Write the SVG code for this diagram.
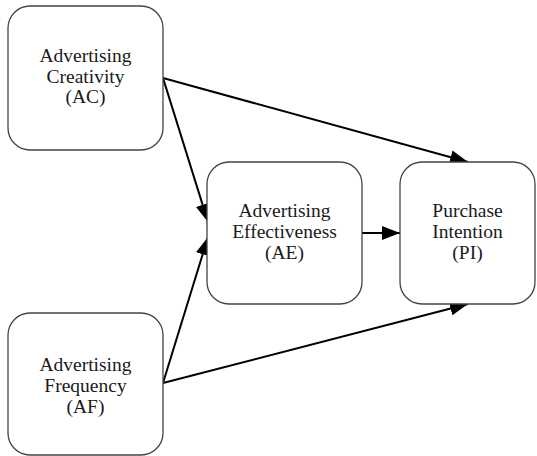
<svg xmlns="http://www.w3.org/2000/svg" width="537" height="456" viewBox="0 0 537 456">
  <defs>
    <marker id="arrow" viewBox="0 0 18 14" refX="18" refY="7" markerWidth="18" markerHeight="14" markerUnits="userSpaceOnUse" orient="auto">
      <path d="M0,0 L18,7 L0,14 Z" fill="#000"/>
    </marker>
    <style>
      .box { fill: #fff; stroke: #444; stroke-width: 1.3; }
      .label { font-family: 'Liberation Serif', 'Times New Roman', serif; font-size: 19.5px; fill: #1a1a1a; text-anchor: middle; }
      .edge { stroke: #000; stroke-width: 2; fill: none; marker-end: url(#arrow); }
    </style>
  </defs>
  <rect width="537" height="456" fill="#fff"/>

  <g id="connectors">
    <line class="edge" x1="163" y1="78" x2="468" y2="162"/>
    <line class="edge" x1="163" y1="78" x2="208" y2="222"/>
    <line class="edge" x1="163" y1="383" x2="208" y2="237"/>
    <line class="edge" x1="163" y1="383" x2="468" y2="304"/>
    <line class="edge" x1="362" y1="233" x2="400" y2="233"/>
  </g>

  <g id="AC">
    <rect class="box" x="8" y="6" width="155" height="144" rx="22"/>
    <text class="label" x="85.5" y="62">Advertising</text>
    <text class="label" x="85.5" y="82.5">Creativity</text>
    <text class="label" x="85.5" y="103">(AC)</text>
  </g>

  <g id="AE">
    <rect class="box" x="207" y="162" width="155" height="142" rx="22"/>
    <text class="label" x="284.5" y="217">Advertising</text>
    <text class="label" x="284.5" y="238">Effectiveness</text>
    <text class="label" x="284.5" y="259">(AE)</text>
  </g>

  <g id="PI">
    <rect class="box" x="400" y="162" width="135" height="142" rx="22"/>
    <text class="label" x="467.5" y="217">Purchase</text>
    <text class="label" x="467.5" y="238">Intention</text>
    <text class="label" x="467.5" y="259">(PI)</text>
  </g>

  <g id="AF">
    <rect class="box" x="8" y="313" width="155" height="142" rx="22"/>
    <text class="label" x="85.5" y="371">Advertising</text>
    <text class="label" x="85.5" y="392">Frequency</text>
    <text class="label" x="85.5" y="413">(AF)</text>
  </g>
</svg>
